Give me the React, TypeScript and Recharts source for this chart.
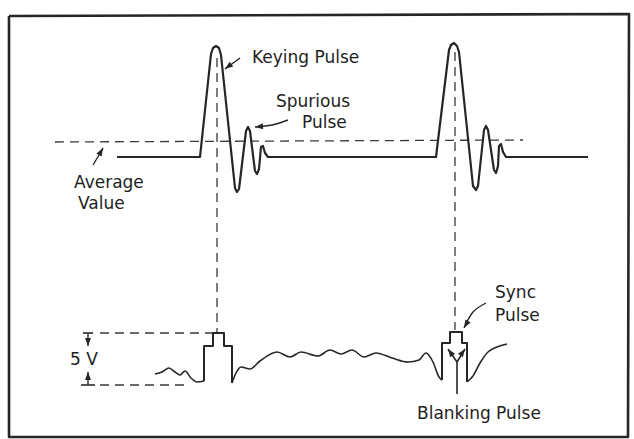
import React from 'react';
import { LineChart, Line, XAxis, YAxis, ReferenceDot } from 'recharts';

// points are [t, v] (t across, v down the page)
const frame = [[9, 16], [629, 14], [628, 437], [9, 437], [9, 16]];

const keyingWave = [
  [117, 157], [200, 157], [211, 54], [213, 48], [216, 46], [219, 48], [221, 55],
  [235, 188], [237, 192], [239, 189], [246, 131], [248, 127], [250, 131],
  [255, 171], [257, 174], [259, 169], [261, 147], [263, 146], [265, 153], [268, 157],
  [436, 157], [449, 50], [451, 45], [454, 43], [457, 46], [459, 52],
  [473, 186], [476, 190], [478, 186], [484, 130], [486, 126], [488, 130],
  [494, 170], [496, 173], [498, 166], [499, 146], [501, 144], [503, 152], [506, 157],
  [588, 157],
];

// video line, split into smooth stretches and the square pedestals
const videoLeft = [
  [155, 374], [162, 372], [169, 368], [175, 372], [180, 375], [185, 371], [191, 378],
  [197, 382], [204, 381],
];
const pedestal1 = [
  [204, 381], [204, 346], [213, 346], [213, 333], [224, 333], [224, 346],
  [232, 346], [232, 383],
];
const videoMiddle = [
  [232, 383], [236, 373], [241, 367], [250, 369], [260, 361], [277, 352],
  [290, 357], [301, 352], [318, 356], [330, 350], [341, 354], [352, 350], [364, 357],
  [376, 353], [392, 358], [408, 362], [419, 360], [426, 353], [433, 362], [439, 377],
  [442, 380],
];
const pedestal2 = [
  [442, 380], [442, 343], [450, 343], [450, 332], [462, 332], [462, 343], [467, 343],
  [467, 382],
];
const videoRight = [[467, 382], [473, 376], [480, 363], [488, 352], [497, 347], [507, 344]];

const averageLine = [[55, 142], [523, 140]];
const keyingDrop1 = [[217, 58], [217, 333]];
const keyingDrop2 = [[455, 52], [455, 330]];
const fiveVoltTop = [[100, 333], [213, 333]];
const fiveVoltBottom = [[100, 385], [190, 385]];

const keyingPointer = [[240, 58], [225, 69]];
const spuriousPointer = [[288, 120], [272, 125], [255, 127]];
const averagePointer = [[93, 165], [99, 155], [103, 148]];
const syncPointer = [[486, 303], [473, 312], [464, 328]];
const blankingStem = [[457, 394], [457, 362]];
const blankingLeft = [[457, 362], [448, 349]];
const blankingRight = [[457, 362], [465, 349]];
const fiveTickTop = [[83, 333], [93, 333]];
const fiveTickBottom = [[81, 385], [95, 385]];
const fiveStemTop = [[88, 334], [88, 346]];
const fiveStemBottom = [[88, 372], [88, 384]];

// arrow heads: [t, v, direction in degrees]
const heads = [
  [225, 69, 143], [255, 127, 175], [103, 148, -60], [464, 328, 120],
  [448, 349, -125], [465, 349, -55], [88, 346, 90], [88, 372, -90],
];

const labels = [
  { text: 'Keying Pulse', t: 252, v: 63 },
  { text: 'Spurious', t: 276, v: 107 },
  { text: 'Pulse', t: 302, v: 128 },
  { text: 'Average', t: 74, v: 188 },
  { text: 'Value', t: 78, v: 209 },
  { text: '5 V', t: 70, v: 365 },
  { text: 'Sync', t: 495, v: 298 },
  { text: 'Pulse', t: 495, v: 321 },
  { text: 'Blanking Pulse', t: 417, v: 419 },
];

const toPts = (arr: number[][]) => arr.map(([t, v]) => ({ t, v }));

const INK = '#262626';

const solid = [
  { key: 'frame', pts: frame, w: 2.6, type: 'linear' },
  { key: 'keying', pts: keyingWave, w: 2.2, type: 'linear' },
  { key: 'vl', pts: videoLeft, w: 1.6, type: 'monotone' },
  { key: 'p1', pts: pedestal1, w: 2, type: 'linear' },
  { key: 'vm', pts: videoMiddle, w: 1.6, type: 'monotone' },
  { key: 'p2', pts: pedestal2, w: 2, type: 'linear' },
  { key: 'vr', pts: videoRight, w: 1.6, type: 'monotone' },
  { key: 'kp', pts: keyingPointer, w: 1.4, type: 'linear' },
  { key: 'sp', pts: spuriousPointer, w: 1.4, type: 'natural' },
  { key: 'ap', pts: averagePointer, w: 1.4, type: 'natural' },
  { key: 'syp', pts: syncPointer, w: 1.4, type: 'natural' },
  { key: 'bs', pts: blankingStem, w: 1.6, type: 'linear' },
  { key: 'bl', pts: blankingLeft, w: 1.6, type: 'linear' },
  { key: 'br', pts: blankingRight, w: 1.6, type: 'linear' },
  { key: 'ft', pts: fiveTickTop, w: 1.6, type: 'linear' },
  { key: 'fb', pts: fiveTickBottom, w: 1.6, type: 'linear' },
  { key: 'fst', pts: fiveStemTop, w: 1.4, type: 'linear' },
  { key: 'fsb', pts: fiveStemBottom, w: 1.4, type: 'linear' },
];

const dashed = [
  { key: 'avg', pts: averageLine },
  { key: 'd1', pts: keyingDrop1 },
  { key: 'd2', pts: keyingDrop2 },
  { key: 'f5t', pts: fiveVoltTop },
  { key: 'f5b', pts: fiveVoltBottom },
];

const Head = (props: any) => {
  const { cx, cy, angle } = props;
  return (
    <polygon
      points="0,0 -8,-3 -8,3"
      fill={INK}
      transform={`translate(${cx},${cy}) rotate(${angle})`}
    />
  );
};

const Txt = (props: any) => (
  <text
    x={props.cx}
    y={props.cy}
    fill="#1e1e1e"
    fontFamily="DejaVu Sans, sans-serif"
    fontSize={17}
  >
    {props.text}
  </text>
);

export default function App() {
  return (
    <div style={{ position: 'absolute', left: 0, top: 0, background: '#fff' }}>
      <LineChart width={634} height={439} margin={{ top: 0, right: 0, bottom: 0, left: 0 }}>
        <XAxis type="number" dataKey="t" domain={[0, 634]} hide allowDataOverflow />
        <YAxis type="number" dataKey="v" domain={[0, 439]} reversed hide allowDataOverflow />
        {dashed.map(s => (
          <Line
            key={s.key}
            data={toPts(s.pts)}
            dataKey="v"
            stroke="#3a3a3a"
            strokeWidth={1.3}
            strokeDasharray="9 6"
            dot={false}
            activeDot={false}
            isAnimationActive={false}
          />
        ))}
        {solid.map(s => (
          <Line
            key={s.key}
            data={toPts(s.pts)}
            dataKey="v"
            type={s.type as any}
            stroke={INK}
            strokeWidth={s.w}
            strokeLinejoin="round"
            dot={false}
            activeDot={false}
            isAnimationActive={false}
          />
        ))}
        {heads.map(([t, v, a], i) => (
          <ReferenceDot
            key={`h${i}`}
            x={t}
            y={v}
            ifOverflow="visible"
            shape={(p: any) => <Head {...p} angle={a} />}
          />
        ))}
        {labels.map((l, i) => (
          <ReferenceDot
            key={`l${i}`}
            x={l.t}
            y={l.v}
            ifOverflow="visible"
            shape={(p: any) => <Txt {...p} text={l.text} />}
          />
        ))}
      </LineChart>
    </div>
  );
}
